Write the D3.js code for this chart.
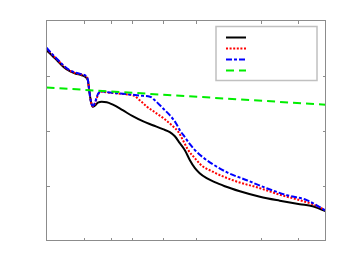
<!DOCTYPE html>
<meta charset="utf-8">
<style>
body{ margin:0; background:#fff; }
.frame{ fill:none; stroke:#8c8c8c; stroke-width:1px; shape-rendering:crispEdges; }
.tick{ stroke:#8c8c8c; stroke-width:1px; shape-rendering:crispEdges; }
.curve{ fill:none; stroke-width:2px; }
</style>
<body>
<div id="chart"></div>
<script src="https://d3js.org/d3.v7.min.js"></script>
<script>
// x positions of the ticks and y ticks (no labels in the figure)
var xTicks = [13.5, 23.2, 30.7, 41.8, 53.6, 76.9, 90.3];
var yTicks = [1, 2, 3];

// series: [x, y]
var blackSeries = [[0,3.46],[1.9,3.369],[4.05,3.26],[6.2,3.151],[8.35,3.078],[10.5,3.033],[12.65,3.005],[14.1,2.969],[14.8,2.915],[15.3,2.733],[15.9,2.533],[16.6,2.433],[17.3,2.451],[18.4,2.505],[19.8,2.524],[21.6,2.515],[23.8,2.469],[27.3,2.369],[30.9,2.26],[34.5,2.169],[38.1,2.096],[41.7,2.024],[44.2,1.969],[46.0,1.895],[47.8,1.769],[49.6,1.642],[51.4,1.46],[53.2,1.315],[54.9,1.224],[57.4,1.133],[60.3,1.06],[63.9,0.987],[69.3,0.896],[76.5,0.796],[83.6,0.724],[90.8,0.66],[95.4,0.624],[100,0.533]];

var redSeries = [[0,3.487],[1.9,3.387],[4.05,3.278],[6.2,3.169],[8.35,3.087],[10.5,3.042],[12.65,3.015],[14.1,2.987],[14.8,2.933],[15.3,2.733],[15.9,2.533],[16.6,2.442],[17.3,2.478],[18.0,2.587],[18.7,2.669],[19.8,2.705],[22.7,2.687],[26.3,2.669],[29.8,2.651],[31.3,2.633],[33.4,2.551],[36.0,2.433],[38.8,2.333],[42.4,2.205],[45.3,2.078],[47.1,1.987],[48.9,1.824],[50.6,1.66],[53.2,1.496],[54.9,1.396],[59.6,1.251],[66.8,1.096],[76.5,0.951],[83.6,0.833],[90.8,0.733],[95.4,0.66],[100,0.551]];

var blueSeries = [[0,3.505],[1.9,3.396],[4.05,3.287],[6.2,3.178],[8.35,3.096],[10.5,3.051],[12.65,3.024],[14.1,2.996],[14.8,2.933],[15.3,2.733],[15.9,2.533],[16.6,2.451],[17.3,2.496],[18.0,2.605],[18.7,2.687],[19.8,2.709],[22.7,2.691],[26.3,2.673],[29.8,2.655],[33.4,2.636],[37.1,2.615],[38.8,2.551],[41.7,2.405],[44.2,2.278],[46.4,2.133],[47.8,2.005],[49.6,1.878],[51.4,1.751],[53.2,1.642],[56.0,1.515],[59.6,1.387],[64.6,1.242],[71.8,1.096],[78.9,0.951],[86.1,0.824],[93.3,0.733],[100,0.542]];

var greenSeries = [[0,2.782],[100,2.469]];

var seriesList = [
  {data:blackSeries, color:"#000000", dash:null},
  {data:redSeries,   color:"#ff0000", dash:"2,1.6"},
  {data:blueSeries,  color:"#0000ff", dash:"6,2,3,2"},
  {data:greenSeries, color:"#00ee00", dash:"8,5"}
];

var width = 360, height = 270;
var margin = {left:46.5, top:20.5, right:34.5, bottom:29.5};

var svg = d3.select("#chart").append("svg")
    .attr("width", width).attr("height", height);

var x = d3.scaleLinear().domain([0,100]).range([margin.left, width-margin.right]);
var y = d3.scaleLinear().domain([0,4]).range([height-margin.bottom, margin.top]);

var line = d3.line().x(d=>x(d[0])).y(d=>y(d[1])).curve(d3.curveMonotoneX);

svg.selectAll(".curve").data(seriesList).enter().append("path")
    .attr("class","curve")
    .attr("d", d=>line(d.data))
    .attr("stroke", d=>d.color)
    .attr("stroke-dasharray", d=>d.dash);

// frame and ticks
svg.append("rect").attr("class","frame")
    .attr("x", x(0)).attr("y", y(4))
    .attr("width", x(100)-x(0)).attr("height", y(0)-y(4));

xTicks.forEach(function(t){
    svg.append("line").attr("class","tick")
        .attr("x1",Math.round(x(t))+0.5).attr("x2",Math.round(x(t))+0.5)
        .attr("y1",y(0)).attr("y2",y(0)-3);
    svg.append("line").attr("class","tick")
        .attr("x1",Math.round(x(t))+0.5).attr("x2",Math.round(x(t))+0.5)
        .attr("y1",y(4)).attr("y2",y(4)+3);
});
yTicks.forEach(function(t){
    svg.append("line").attr("class","tick")
        .attr("x1",x(0)).attr("x2",x(0)+3)
        .attr("y1",Math.round(y(t))+0.5).attr("y2",Math.round(y(t))+0.5);
    svg.append("line").attr("class","tick")
        .attr("x1",x(100)).attr("x2",x(100)-3)
        .attr("y1",Math.round(y(t))+0.5).attr("y2",Math.round(y(t))+0.5);
});

// legend (no text entries in the figure)
var lg = svg.append("g").attr("transform","translate(216,26.5)");
lg.append("rect").attr("width",101).attr("height",54)
    .attr("fill","#fff").attr("stroke","#c0c0c0").attr("stroke-width",1.5);
seriesList.forEach(function(s,i){
    lg.append("line")
        .attr("x1",10).attr("x2",30)
        .attr("y1",11+i*11).attr("y2",11+i*11)
        .attr("stroke",s.color).attr("stroke-width",2)
        .attr("stroke-dasharray",s.dash);
});
</script>
</body>
</html>
